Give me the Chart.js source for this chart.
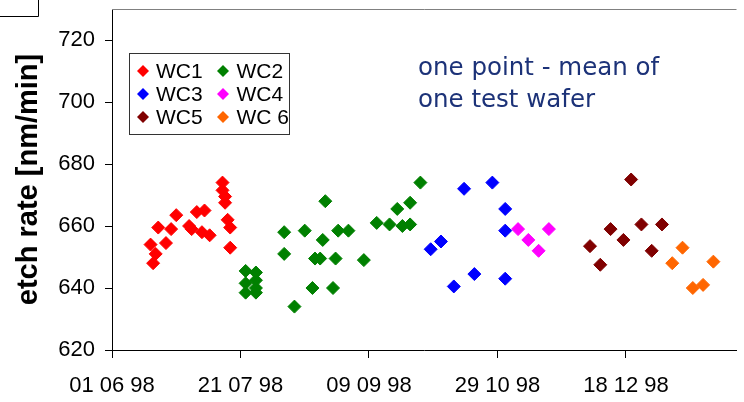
<!DOCTYPE html>
<html>
<head>
<meta charset="utf-8">
<script src="https://cdn.jsdelivr.net/npm/chart.js@4/dist/chart.umd.min.js"></script>
<style>
  html, body { margin: 0; padding: 0; background: #fff; overflow: hidden; }
  #wrap { width: 744px; height: 402px; }
</style>
</head>
<body>
<div id="wrap"><canvas id="c" width="744" height="402"></canvas></div>
<script>
// Series: sample dates and mean etch rate of one test wafer [nm/min]
const seriesLabels = ['WC1', 'WC2', 'WC3', 'WC4', 'WC5', 'WC 6'];
const seriesColors = ['#FF0000', '#008000', '#0000FF', '#FF00FF', '#800000', '#FF6600'];

const wc1Dates = ['1998-06-16','1998-06-17','1998-06-18','1998-06-19','1998-06-22','1998-06-24','1998-06-26',
                  '1998-07-01','1998-07-02','1998-07-04','1998-07-06','1998-07-07','1998-07-09','1998-07-14',
                  '1998-07-14','1998-07-15','1998-07-15','1998-07-16','1998-07-17','1998-07-17'];
const wc1Rates = [654, 648, 651, 659.5, 654.5, 659, 663.5, 660, 659, 664.5, 658, 665, 657, 674,
                  671.5, 669.5, 667.5, 662, 659.5, 653];

const wc2Dates = ['1998-07-23','1998-07-23','1998-07-23','1998-07-27','1998-07-27','1998-07-27','1998-07-27',
                  '1998-08-07','1998-08-07','1998-08-11','1998-08-15','1998-08-18','1998-08-19','1998-08-21',
                  '1998-08-22','1998-08-23','1998-08-26','1998-08-27','1998-08-28','1998-09-01','1998-09-07',
                  '1998-09-12','1998-09-17','1998-09-20','1998-09-22','1998-09-25','1998-09-25','1998-09-29'];
const wc2Rates = [645.5, 641.5, 638.5, 645, 642.5, 640, 638.5,
                  658, 651, 634, 658.5, 640, 649.5, 649.5,
                  655.5, 668, 640, 649.5, 658.5, 658.5, 649,
                  661, 660.5, 665.5, 660, 667.5, 660.5, 674];

const wc3Dates = ['1998-10-03','1998-10-07','1998-10-12','1998-10-16','1998-10-20','1998-10-27',
                  '1998-11-01','1998-11-01','1998-11-01'];
const wc3Rates = [652.5, 655, 640.5, 672, 644.5, 674, 665.5, 658.5, 643];

const wc4Dates = ['1998-11-06','1998-11-10','1998-11-14','1998-11-18'];
const wc4Rates = [659, 655.5, 652, 659];

const wc5Dates = ['1998-12-04','1998-12-08','1998-12-12','1998-12-17','1998-12-20','1998-12-24',
                  '1998-12-28','1999-01-01'];
const wc5Rates = [653.5, 647.5, 659, 655.5, 675, 660.5, 652, 660.5];

const wc6Dates = ['1999-01-05','1999-01-09','1999-01-13','1999-01-17','1999-01-21'];
const wc6Rates = [648, 653, 640, 641, 648.5];

// Axis ticks
const xTickDates = ['1998-06-01','1998-07-21','1998-09-09','1998-10-29','1998-12-18'];
const xEndDate = '1999-01-30';
const yTicks = [620, 640, 660, 680, 700, 720];
const yMin = 620, yMax = 730;

const noteLines = ['one point - mean of', 'one test wafer'];

// Dates become day offsets from the first axis date
const DAY = 86400000;
const origin = Date.parse(xTickDates[0] + 'T00:00:00Z');
const toDay = s => Math.round((Date.parse(s + 'T00:00:00Z') - origin) / DAY);
const pad2 = n => String(n).padStart(2, '0');
const dayLabel = d => {
  const t = new Date(origin + d * DAY);
  return pad2(t.getUTCDate()) + ' ' + pad2(t.getUTCMonth() + 1) + ' ' + pad2(t.getUTCFullYear() % 100);
};

const allDates = [wc1Dates, wc2Dates, wc3Dates, wc4Dates, wc5Dates, wc6Dates];
const allRates = [wc1Rates, wc2Rates, wc3Rates, wc4Rates, wc5Rates, wc6Rates];

const datasets = seriesLabels.map((label, i) => ({
  label,
  data: allDates[i].map((d, k) => ({ x: toDay(d), y: allRates[i][k] })),
  pointStyle: 'rectRot',
  pointRadius: 6.5,
  pointHoverRadius: 6.5,
  backgroundColor: seriesColors[i],
  borderColor: seriesColors[i],
  borderWidth: 1
}));

const tickFont = { family: "'Liberation Sans', Arial, sans-serif", size: 22 };

// Plot-area frame, the boxed legend and the note text
const decorations = {
  id: 'decorations',
  beforeDatasetsDraw(chart) {
    const { ctx, chartArea: a } = chart;
    ctx.save();
    ctx.strokeStyle = '#808080';
    ctx.lineWidth = 1;
    ctx.beginPath();
    ctx.moveTo(a.left, a.top + 0.5);
    ctx.lineTo(a.right, a.top + 0.5);
    ctx.stroke();
    ctx.restore();
  },
  afterDraw(chart) {
    const { ctx } = chart;
    ctx.save();
    // corner of a neighbouring frame
    ctx.strokeStyle = '#000';
    ctx.lineWidth = 1;
    ctx.beginPath();
    ctx.moveTo(0, 16.5);
    ctx.lineTo(38.5, 16.5);
    ctx.lineTo(38.5, 0);
    ctx.stroke();

    // legend box, two columns by three rows
    const bx = 129.5, by = 53.5, bw = 160, bh = 81;
    ctx.fillStyle = '#fff';
    ctx.fillRect(bx, by, bw, bh);
    ctx.save();
    ctx.beginPath();
    ctx.rect(bx, by, bw, bh);
    ctx.clip();
    ctx.font = "21px 'Liberation Sans', Arial, sans-serif";
    ctx.textBaseline = 'middle';
    ctx.textAlign = 'left';
    const colMarker = [143, 223], colText = [156, 236.5], rowY = [71, 94, 117];
    chart.data.datasets.forEach((ds, i) => {
      const c = i % 2, r = Math.floor(i / 2);
      const mx = colMarker[c], my = rowY[r], s = 6;
      ctx.fillStyle = ds.backgroundColor;
      ctx.beginPath();
      ctx.moveTo(mx - s, my);
      ctx.lineTo(mx, my - s);
      ctx.lineTo(mx + s, my);
      ctx.lineTo(mx, my + s);
      ctx.closePath();
      ctx.fill();
      ctx.fillStyle = '#000';
      ctx.fillText(ds.label, colText[c], my + 1);
    });
    ctx.restore();
    ctx.strokeStyle = '#333';
    ctx.strokeRect(bx, by, bw, bh);

    // note
    ctx.fillStyle = '#1C3278';
    ctx.font = "24.5px 'DejaVu Sans', Verdana, sans-serif";
    ctx.textBaseline = 'alphabetic';
    ctx.fillText(noteLines[0], 418, 75);
    ctx.fillText(noteLines[1], 418, 107);
    ctx.restore();
  }
};

new Chart(document.getElementById('c'), {
  type: 'scatter',
  data: { datasets },
  options: {
    responsive: false,
    animation: false,
    events: [],
    layout: { padding: { top: 9, right: 0, bottom: 0, left: 0 } },
    plugins: { legend: { display: false }, tooltip: { enabled: false } },
    scales: {
      x: {
        type: 'linear',
        min: 0,
        max: toDay(xEndDate),
        afterBuildTicks: s => { s.ticks = xTickDates.map(d => ({ value: toDay(d) })); },
        afterFit: s => { s.height = 52; },
        ticks: {
          font: tickFont,
          color: '#000',
          padding: 15,
          maxRotation: 0,
          autoSkip: false,
          callback: v => dayLabel(v)
        },
        grid: { drawOnChartArea: false, drawTicks: true, tickLength: 8, color: '#000', lineWidth: 1 },
        border: { display: true, color: '#000', width: 1 }
      },
      y: {
        type: 'linear',
        min: yMin,
        max: yMax,
        afterBuildTicks: s => { s.ticks = yTicks.map(v => ({ value: v })); },
        afterFit: s => { s.width = 112; s.paddingTop = 0; s.paddingBottom = 0; },
        ticks: { font: tickFont, color: '#000', padding: 10, autoSkip: false },
        grid: { drawOnChartArea: false, drawTicks: true, tickLength: 7, color: '#000', lineWidth: 1 },
        border: { display: true, color: '#000', width: 1 },
        title: {
          display: true,
          text: 'etch rate [nm/min]',
          color: '#000',
          font: { family: "'Liberation Sans', Arial, sans-serif", size: 29, weight: 'bold' },
          padding: { top: 12, bottom: 0 }
        }
      }
    }
  },
  plugins: [decorations]
});
</script>
</body>
</html>
